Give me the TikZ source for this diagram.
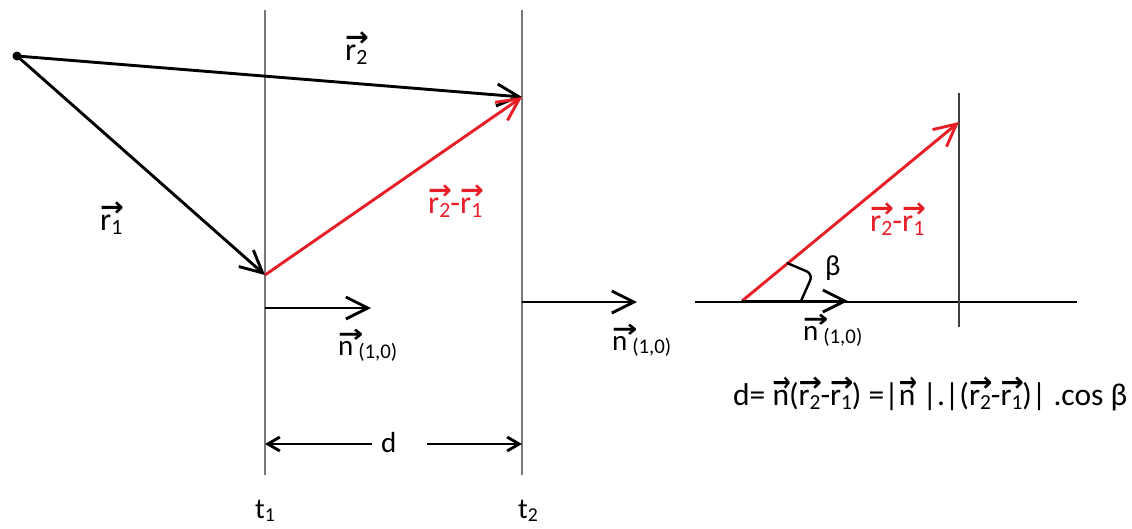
\documentclass[tikz,border=0pt]{standalone}
\usepackage{fontspec}
\setmainfont{Carlito}
\newfontfamily\arrfont{DejaVu Sans}
\usepackage{graphicx}
\usetikzlibrary{arrows.meta}
\definecolor{pred}{RGB}{232,30,38}
\definecolor{lgray}{RGB}{120,120,120}
\newcommand\ov[2][0.05em]{\setbox0\hbox{#2}\makebox[0pt][l]{\raisebox{0.42em}{\resizebox{\dimexpr\wd0+#1\relax}{0.46em}{\arrfont\bfseries →}}}\box0}
\newcommand\sub[1]{\raisebox{-0.13em}{\scalebox{0.68}{#1}}}
\newcommand\nsub[1]{\raisebox{-0.12em}{\scalebox{0.72}{#1}}}
\begin{document}
\begin{tikzpicture}[x=1pt,y=-1pt,
  vline/.style={draw=lgray,line width=1.3pt},
  vec/.style={line width=2.9pt,-{Straight Barb[length=22pt,width=22pt]}},
  redvec/.style={vec,draw=pred},
  dimarr/.style={line width=2.9pt,-{Straight Barb[length=12pt,width=14pt]}},
  lab/.style={anchor=base west,inner sep=0pt,font=\fontsize{32}{38}\selectfont},
  slab/.style={anchor=base west,inner sep=0pt,font=\fontsize{29}{34}\selectfont},
  flab/.style={anchor=base west,inner sep=0pt,font=\fontsize{31.5}{36}\selectfont}]
\path[use as bounding box] (0,0) rectangle (1132,528);
% coordinates
\coordinate (O) at (17,56);
\coordinate (A) at (265,275);
\coordinate (B) at (522,97);
\coordinate (T1a) at (265,10);
\coordinate (T1b) at (265,475);
\coordinate (T2a) at (522,10);
\coordinate (T2b) at (522,475);
\coordinate (N1a) at (265,308);
\coordinate (N1b) at (371,308);
\coordinate (N2a) at (522,302);
\coordinate (N2b) at (637,302);
\coordinate (DL) at (372,444);
\coordinate (DR) at (427,444);
\coordinate (D1) at (265,444);
\coordinate (D2) at (522,444);
% right panel
\coordinate (H1) at (695,302);
\coordinate (H2) at (1077,302);
\coordinate (V1) at (959,93);
\coordinate (V2) at (959,327);
\coordinate (P) at (742,301);
\coordinate (Q) at (959,122);
\coordinate (Nr) at (848,301);
\coordinate (K1) at (787,263);
\coordinate (K2) at (813,274);
\coordinate (K3) at (801,301);
% lines
\draw[vline] (T1a) -- (T1b);
\draw[vline] (T2a) -- (T2b);
\draw[line width=1.3pt] (H1) -- (H2);
\draw[vline,draw=black!75] (V1) -- (V2);
% vectors
\fill (O) circle (4.5);
\draw[vec] (O) -- (B);
\draw[vec] (O) -- (A);
\draw[redvec] (A) -- (B);
\draw[vec] (N1a) -- (N1b);
\draw[vec] (N2a) -- (N2b);
\draw[dimarr] (DL) -- (D1);
\draw[dimarr] (DR) -- (D2);
\draw[redvec] (P) -- (Q);
\draw[vec] (P) -- (Nr);
\draw[line width=2.4pt,rounded corners=7pt] (K1) -- (K2) -- (K3);
% labels
\node[lab] (lr2) at (345,60) {\ov{r\sub{2}}};
\node[lab] (lr1) at (100,230) {\ov{r\sub{1}}};
\node[lab,text=pred] (lrr) at (428,213) {\ov{r\sub{2}}-\ov{r\sub{1}}};
\node[slab] (ln1) at (338,355) {\ov[0.35em]{n}\,\nsub{(1,0)}};
\node[slab] (ln2) at (612,350) {\ov[0.35em]{n}\,\nsub{(1,0)}};
\node[slab] (ld) at (381,452) {d};
\node[slab] (lt1) at (255,518) {t\sub{1}};
\node[slab] (lt2) at (518,518) {t\sub{2}};
\node[lab,text=pred] (lrr2) at (870,231) {\ov{r\sub{2}}-\ov{r\sub{1}}};
\node[slab] (lb) at (825,275) {β};
\node[slab] (ln3) at (803,340) {\ov[0.35em]{n}\,\nsub{(1,0)}};
\node[flab] (lf) at (733,405) {d= \ov{n}(\ov{r\sub{2}}-\ov{r\sub{1}}) =|\ov{n}\ |.|(\ov{r\sub{2}}-\ov{r\sub{1}})| .cos β};
\end{tikzpicture}
\end{document}
